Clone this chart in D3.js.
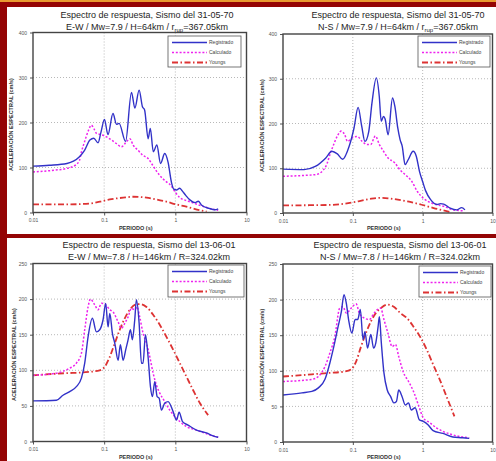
<!DOCTYPE html>
<html>
<head>
<meta charset="utf-8">
<script src="https://cdn.jsdelivr.net/npm/d3@7"></script>
<style>
  body { margin: 0; background: #fff; }
  svg { display: block; font-family: "Liberation Sans", Arial, sans-serif; }
</style>
</head>
<body>
<svg width="496" height="461"></svg>
<script>
// ---- data ----
var periodTicks = [0.01, 0.1, 1, 10];
var periodLabels = ["0.01", "0.1", "1", "10"];
var yTicks1970 = [0, 100, 200, 300, 400];
var yTicks2001 = [0, 50, 100, 150, 200, 250];
var seriesNames = ["Registrado", "Calculado", "Youngs"];

// 31-05-70, E-W  [period (s), Sa (cm/s2)]
var ew70Registrado = [[0.01,103],[0.017,105],[0.03,109],[0.037,114],[0.045,124],[0.053,138],[0.063,161],[0.0715,165],[0.082,155],[0.09,178],[0.101,207],[0.113,173],[0.133,220],[0.149,196],[0.162,198],[0.2,158],[0.242,267],[0.27,232],[0.31,272],[0.345,235],[0.37,228],[0.415,164],[0.445,187],[0.49,135],[0.55,150],[0.62,109],[0.71,131],[0.79,112],[0.885,66],[0.95,52],[1.05,50],[1.15,54],[1.25,48],[1.4,38],[1.6,28],[1.9,22],[2.1,25],[2.35,16],[3.0,9],[3.6,6],[4.0,8]];
var ew70Calculado = [[0.01,90],[0.02,94],[0.03,98],[0.04,106],[0.045,116],[0.048,135],[0.053,157],[0.06,182],[0.066,194],[0.072,186],[0.078,176],[0.09,173],[0.108,168],[0.127,161],[0.149,153],[0.175,146],[0.205,157],[0.23,164],[0.255,150],[0.3,138],[0.35,127],[0.415,120],[0.48,105],[0.6,83],[0.75,68],[0.87,60],[1.0,45],[1.16,33],[1.4,27],[1.6,24],[2.2,16],[3.05,9],[4.0,5]];
var ew70Youngs = [[0.01,18],[0.03,18],[0.063,20],[0.087,24],[0.12,29],[0.185,33],[0.255,35],[0.393,33],[0.543,29],[0.75,24],[1.03,18],[1.43,13],[2.2,5],[2.75,2]];

// 31-05-70, N-S
var ns70Registrado = [[0.01,98],[0.02,97],[0.029,104],[0.041,123],[0.05,138],[0.06,132],[0.0715,120],[0.0886,149],[0.104,190],[0.119,236],[0.134,194],[0.149,160],[0.169,182],[0.188,246],[0.217,302],[0.239,261],[0.255,205],[0.275,216],[0.29,210],[0.32,175],[0.37,257],[0.4,238],[0.44,190],[0.475,164],[0.51,149],[0.56,108],[0.62,119],[0.73,138],[0.81,127],[0.9,93],[1.0,70],[1.1,50],[1.3,30],[1.61,19],[1.8,21],[2.0,20],[2.48,11],[3.07,7],[3.62,12],[4.03,7]];
var ns70Calculado = [[0.01,82],[0.02,84],[0.03,86],[0.041,104],[0.048,135],[0.052,149],[0.06,172],[0.068,183],[0.076,176],[0.084,160],[0.0985,168],[0.116,171],[0.136,160],[0.16,153],[0.18,153],[0.21,172],[0.24,153],[0.275,138],[0.32,123],[0.4,112],[0.47,97],[0.56,86],[0.69,72],[0.84,48],[1.04,32],[1.4,21],[2.0,15],[2.75,7],[3.8,5]];
var ns70Youngs = [[0.01,17],[0.045,18],[0.078,21],[0.12,26],[0.185,32],[0.256,34],[0.394,31],[0.608,26],[0.937,19],[1.44,11],[2.2,4],[2.6,1]];

// 13-06-01, E-W
var ew01Registrado = [[0.01,57],[0.0213,58],[0.0264,65],[0.0328,70],[0.0407,77],[0.0479,89],[0.0533,110],[0.0594,147],[0.0683,173],[0.0778,154],[0.0866,157],[0.0965,171],[0.105,194],[0.1135,161],[0.12,180],[0.1305,152],[0.141,138],[0.157,114],[0.169,136],[0.1845,114],[0.201,129],[0.217,143],[0.234,157],[0.249,143],[0.269,171],[0.284,199],[0.31,166],[0.334,110],[0.352,110],[0.38,150],[0.414,119],[0.447,77],[0.477,63],[0.514,84],[0.555,63],[0.592,61],[0.638,44],[0.711,54],[0.792,56],[0.931,42],[1.04,30],[1.13,41],[1.26,28],[1.51,23],[1.98,16],[2.74,12],[3.4,8],[4.0,6]];
var ew01Calculado = [[0.01,93],[0.0213,96],[0.0328,103],[0.0407,110],[0.0479,124],[0.0533,157],[0.0594,189],[0.064,200],[0.0737,192],[0.082,185],[0.0914,194],[0.105,192],[0.12,185],[0.1334,182],[0.157,168],[0.1747,159],[0.1947,166],[0.217,175],[0.2415,187],[0.269,185],[0.29,189],[0.316,175],[0.352,152],[0.393,138],[0.4375,119],[0.4875,96],[0.543,79],[0.604,68],[0.711,56],[0.836,44],[0.984,35],[1.156,28],[1.435,21],[1.98,16],[2.74,11],[3.59,7],[4.0,6]];
var ew01Youngs = [[0.01,93],[0.0294,96],[0.0504,97],[0.0866,100],[0.102,105],[0.12,119],[0.141,138],[0.1656,157],[0.1947,173],[0.229,185],[0.269,192],[0.316,193],[0.393,189],[0.4875,178],[0.604,164],[0.75,147],[0.931,129],[1.156,110],[1.435,91],[1.78,72],[2.21,54],[2.89,37]];

// 13-06-01, N-S
var ns01Registrado = [[0.01,66],[0.0187,69],[0.0259,71],[0.0321,76],[0.0399,88],[0.0469,111],[0.0523,130],[0.0615,162],[0.0685,183],[0.0747,207],[0.0806,195],[0.0869,172],[0.0968,153],[0.108,172],[0.1175,172],[0.128,186],[0.14,144],[0.149,155],[0.1626,132],[0.181,151],[0.198,132],[0.213,139],[0.23,162],[0.24,176],[0.256,139],[0.279,97],[0.311,73],[0.347,64],[0.386,55],[0.421,57],[0.454,73],[0.506,64],[0.564,52],[0.628,55],[0.685,45],[0.78,48],[0.898,31],[1.02,29],[1.2,24],[1.41,16],[1.95,12],[2.7,7],[3.74,6],[4.64,5]];
var ns01Calculado = [[0.01,85],[0.0259,88],[0.0321,92],[0.0399,106],[0.0469,125],[0.0552,148],[0.0649,188],[0.0723,190],[0.0806,181],[0.0948,188],[0.1114,194],[0.124,181],[0.146,174],[0.172,172],[0.202,181],[0.225,186],[0.251,188],[0.279,172],[0.318,153],[0.366,134],[0.408,137],[0.454,120],[0.534,97],[0.628,85],[0.739,71],[0.869,52],[1.02,34],[1.27,27],[1.57,20],[1.95,15],[2.7,10],[3.74,7],[4.64,6]];
var ns01Youngs = [[0.01,92],[0.0259,95],[0.0445,97],[0.0763,99],[0.0948,102],[0.1114,113],[0.131,134],[0.154,153],[0.181,169],[0.213,181],[0.251,188],[0.311,193],[0.386,190],[0.48,181],[0.596,174],[0.739,162],[0.917,148],[1.14,130],[1.41,109],[1.75,88],[2.3,59],[2.85,36]];

// ---- page frame ----
var svg = d3.select('svg');
svg.append('rect').attr('width', 496).attr('height', 461).attr('fill', '#940404');
svg.append('rect').attr('width', 496).attr('height', 2).attr('fill', '#e89a30');
svg.append('rect').attr('x', 7).attr('y', 7).attr('width', 489).attr('height', 227).attr('fill', '#fff');
svg.append('rect').attr('x', 7).attr('y', 238).attr('width', 489).attr('height', 223).attr('fill', '#fff');

var colors = ['#3232c8', '#ee22ee', '#dd3333'];
var dashes = [null, '2,1.8', '6,2.5,1.5,2.5'];
var widths = [1.4, 1.5, 1.8];

var panels = [
  {x0: 33, x1: 246.5, y0: 32.5, y1: 212.5, yMax: 400, yTicks: yTicks1970,
   title: 'Espectro de respuesta, Sismo del 31-05-70', sub: ['E-W / Mw=7.9 / H=64km / r', 'rup', '=367.05km'],
   tx: 147, ty: 18, yt: 13, leg: [168, 36, 73, 31],
   series: [ew70Registrado, ew70Calculado, ew70Youngs]},
  {x0: 283, x1: 492.5, y0: 34, y1: 213, yMax: 400, yTicks: yTicks1970,
   title: 'Espectro de respuesta, Sismo del 31-05-70', sub: ['N-S / Mw=7.9 / H=64km / r', 'rup', '=367.05km'],
   tx: 398, ty: 18, yt: 264, leg: [418, 36, 72, 31],
   series: [ns70Registrado, ns70Calculado, ns70Youngs]},
  {x0: 33, x1: 246.5, y0: 263.5, y1: 441.5, yMax: 250, yTicks: yTicks2001,
   title: 'Espectro de respuesta, Sismo del 13-06-01', sub: ['E-W / Mw=7.8 / H=146km / R=324.02km'],
   tx: 149, ty: 248, yt: 16, leg: [168, 265, 76, 32],
   series: [ew01Registrado, ew01Calculado, ew01Youngs]},
  {x0: 283, x1: 492.5, y0: 264, y1: 442, yMax: 250, yTicks: yTicks2001,
   title: 'Espectro de respuesta, Sismo del 13-06-01', sub: ['N-S / Mw=7.8 / H=146km / R=324.02km'],
   tx: 400, ty: 248, yt: 264, leg: [419, 266, 72, 31],
   series: [ns01Registrado, ns01Calculado, ns01Youngs]}
];

panels.forEach(drawPanel);

function drawPanel(p) {
  var g = svg.append('g');
  var x = d3.scaleLog().domain([0.01, 10]).range([p.x0, p.x1]);
  var y = d3.scaleLinear().domain([0, p.yMax]).range([p.y1, p.y0]);

  // dotted grid
  g.selectAll('.gx').data([0.1, 1]).enter().append('line')
      .attr('x1', function (d) { return x(d); }).attr('x2', function (d) { return x(d); })
      .attr('y1', p.y0).attr('y2', p.y1)
      .attr('stroke', '#b8b8b8').attr('stroke-dasharray', '1,2');
  g.selectAll('.gy').data(p.yTicks.slice(1, -1)).enter().append('line')
      .attr('x1', p.x0).attr('x2', p.x1)
      .attr('y1', function (d) { return y(d); }).attr('y2', function (d) { return y(d); })
      .attr('stroke', '#b8b8b8').attr('stroke-dasharray', '1,2');

  // axes
  var ax = g.append('g').attr('transform', 'translate(0,' + p.y1 + ')')
      .call(d3.axisBottom(x).tickValues(periodTicks)
          .tickFormat(function (d, i) { return periodLabels[i]; }).tickSize(3).tickPadding(3));
  var ay = g.append('g').attr('transform', 'translate(' + p.x0 + ',0)')
      .call(d3.axisLeft(y).tickValues(p.yTicks).tickSize(3).tickPadding(3));
  [ax, ay].forEach(function (a) {
    a.select('.domain').remove();
    a.selectAll('line').attr('stroke', '#555');
    a.selectAll('text').attr('font-size', 5).attr('fill', '#555')
        .attr('font-family', '"Liberation Sans", Arial, sans-serif');
  });

  // series
  var clipId = 'c' + p.x0 + '_' + p.y0;
  g.append('clipPath').attr('id', clipId).append('rect')
      .attr('x', p.x0).attr('y', p.y0).attr('width', p.x1 - p.x0).attr('height', p.y1 - p.y0);
  var line = d3.line()
      .x(function (d) { return x(d[0]); })
      .y(function (d) { return y(d[1]); })
      .curve(d3.curveMonotoneX);
  [2, 1, 0].forEach(function (i) {
    g.append('path').datum(p.series[i])
        .attr('clip-path', 'url(#' + clipId + ')')
        .attr('d', line)
        .attr('fill', 'none')
        .attr('stroke', colors[i])
        .attr('stroke-width', widths[i])
        .attr('stroke-dasharray', dashes[i]);
  });

  // plot frame
  g.append('rect').attr('x', p.x0).attr('y', p.y0)
      .attr('width', p.x1 - p.x0).attr('height', p.y1 - p.y0)
      .attr('fill', 'none').attr('stroke', '#444').attr('stroke-width', 1.4);

  // legend
  var L = p.leg;
  var lg = g.append('g').attr('transform', 'translate(' + L[0] + ',' + L[1] + ')');
  lg.append('rect').attr('width', L[2]).attr('height', L[3])
      .attr('fill', '#fff').attr('stroke', '#555').attr('stroke-width', 0.8);
  seriesNames.forEach(function (name, i) {
    var yy = 6.5 + i * 10;
    lg.append('line').attr('x1', 4).attr('x2', 39).attr('y1', yy).attr('y2', yy)
        .attr('stroke', colors[i]).attr('stroke-width', widths[i])
        .attr('stroke-dasharray', dashes[i]);
    lg.append('text').attr('x', 41).attr('y', yy + 1.7).text(name)
        .attr('font-size', 5).attr('fill', '#444');
  });

  // titles
  g.append('text').attr('x', p.tx).attr('y', p.ty).attr('text-anchor', 'middle')
      .attr('font-size', 9).attr('fill', '#1e1e1e').text(p.title);
  var t2 = g.append('text').attr('x', p.tx).attr('y', p.ty + 12).attr('text-anchor', 'middle')
      .attr('font-size', 9).attr('fill', '#1e1e1e');
  t2.append('tspan').text(p.sub[0]);
  if (p.sub.length > 1) {
    t2.append('tspan').attr('font-size', 6).attr('dy', 2).text(p.sub[1]);
    t2.append('tspan').attr('dy', -2).text(p.sub[2]);
  }

  g.append('text').attr('x', (p.x0 + p.x1) / 2 - 4).attr('y', p.y1 + 17)
      .attr('text-anchor', 'middle').attr('font-size', 5.5).attr('font-weight', 'bold')
      .attr('fill', '#333').text('PERIODO (s)');
  g.append('text')
      .attr('transform', 'translate(' + p.yt + ',' + ((p.y0 + p.y1) / 2 + 2) + ')rotate(-90)')
      .attr('text-anchor', 'middle').attr('font-size', 5.5).attr('font-weight', 'bold')
      .attr('fill', '#333').text('ACELERACIÓN ESPECTRAL (cm/s)');
}
</script>
</body>
</html>
